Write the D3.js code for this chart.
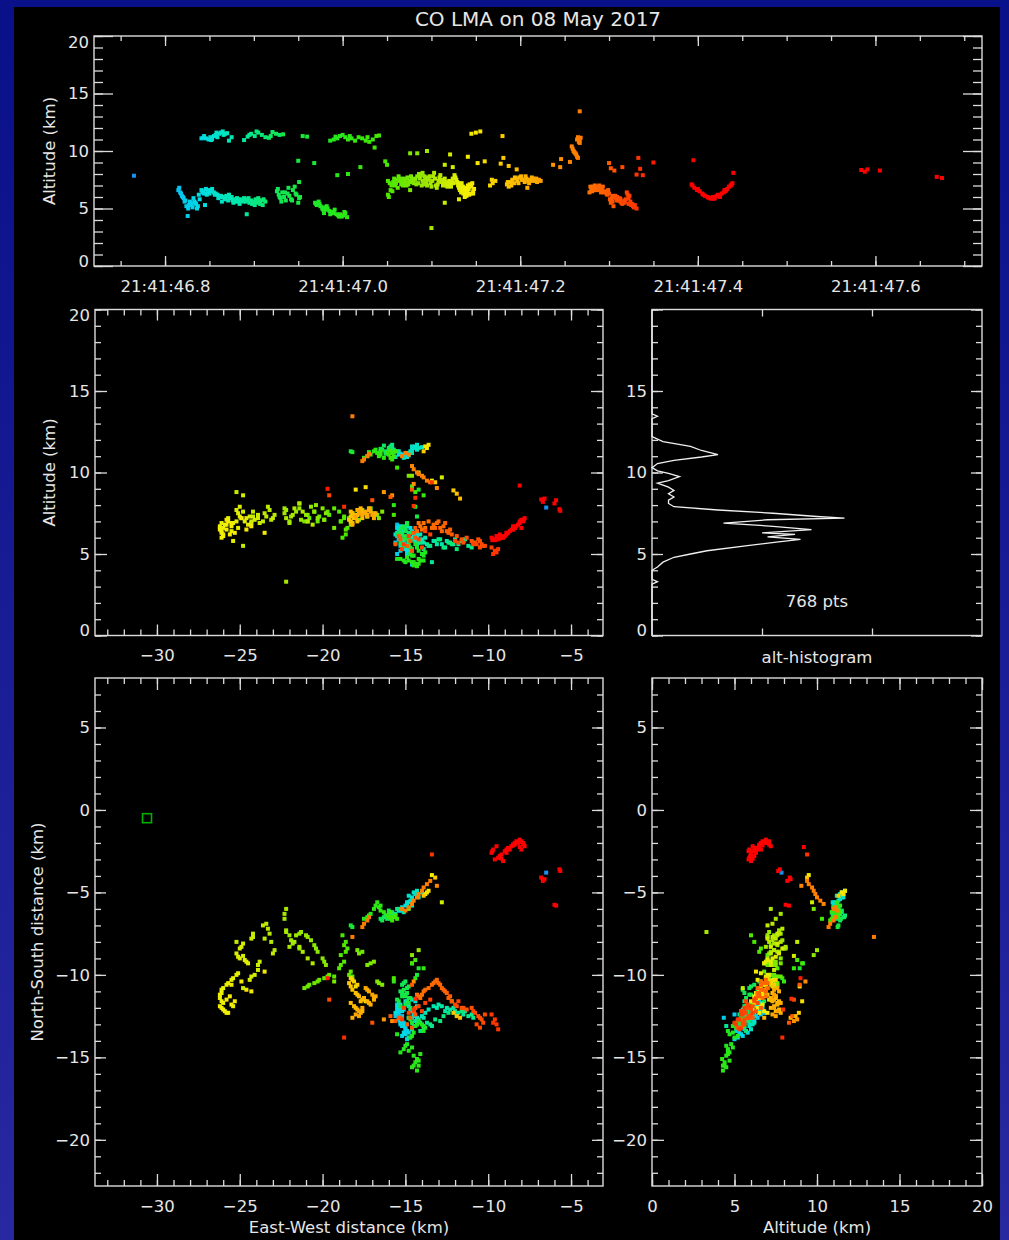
<!DOCTYPE html>
<html><head><meta charset="utf-8">
<script src="https://cdn.jsdelivr.net/npm/d3@7"></script>
<style>
html,body{margin:0;padding:0;background:#000;}
svg{display:block;}
text{font-family:"DejaVu Sans",sans-serif;fill:#e6e6e6;}
</style></head><body>
<svg id="chart" width="1009" height="1240"></svg>
<script>
// ---------- data ----------
const chartTitle = "CO LMA on 08 May 2017";
const timeTickValues = [46.8, 47.0, 47.2, 47.4, 47.6];
const timeTickPrefix = "21:41:";
const altTickValues = [0, 5, 10, 15, 20];
const histAltTickValues = [0, 5, 10, 15];
const ewTickValues = [-30, -25, -20, -15, -10, -5];
const nsTickValues = [5, 0, -5, -10, -15, -20];
const histCountTicks = [20, 40];
const timeDomain = [46.72, 47.72];
const ewDomain = [-33.74, -3.07];
const nsDomain = [-22.8, 8.0];
const altDomain = [0, 20];
const histDomain = [0, 60];
const stationEW = -30.6, stationNS = -0.5;
const pointsLabel = "768 pts";

const colorTimes  = [46.76, 46.80, 46.84, 46.88, 46.92, 46.98, 47.05, 47.10, 47.14, 47.19, 47.24, 47.28, 47.32, 47.37];
const colorValues = ["#1a8cf0","#0ab4f4","#00dce6","#00e8b0","#10e860","#20e820","#48e800","#a8e800","#f4f000","#ffc000","#ff9400","#ff7000","#ff4400","#ff0000"];

// altitude histogram profile (altitude km, count)
const histAlt   = [20,13.6,13.45,13.3,12.2,11.9,11.6,11.35,11.1,10.95,10.75,10.55,10.3,10.1,9.95,9.75,9.5,9.35,9.1,8.9,8.7,8.5,8.3,8.1,7.9,7.7,7.5,7.3,7.2,7.1,6.9,6.7,6.5,6.3,6.2,6.05,5.9,5.75,5.5,5.2,5.0,4.8,4.5,4.2,4.0,3.45,3.3,3.15,0];
const histCount = [0,0,1,0,0,2,7,9,12,9,4,1,0,1,3,5,3,1,3,4,3,4,3,3,4,12,22,30,35,21,13,22,29,20,26,21,27,23,17,10,7,4,2,1,0,0,1,0,0];

// VHF sources: [time (s after 21:41), east-west km, north-south km, altitude km]
const sources = [
[46.765,-6.5,-3.8,7.85],
// lower cyan
[46.815,-15.4,-12.4,6.6],[46.817,-15.3,-12.6,6.4],[46.819,-15.5,-12.2,6.1],[46.821,-15.2,-12.8,5.9],
[46.823,-15.6,-12.5,5.7],[46.8255,-14.6,-12.6,4.35],[46.827,-15.0,-13.2,5.3],[46.829,-15.3,-12.9,5.5],
[46.831,-14.9,-13.4,5.1],[46.833,-15.2,-13.1,5.6],[46.835,-15.0,-13.6,5.4],[46.837,-14.8,-13.8,5.2],
[46.839,-15.1,-13.5,5.8],[46.841,-15.5,-12.0,6.6],[46.843,-15.4,-11.9,6.5],[46.845,-15.0,-13.0,5.3],
[46.847,-15.6,-12.3,6.2],[46.849,-15.3,-11.8,6.6],[46.851,-15.1,-12.1,6.5],[46.853,-14.9,-11.7,6.7],
[46.855,-14.6,-11.5,6.4],[46.857,-14.4,-11.6,6.3],[46.859,-14.3,-11.9,6.2],[46.861,-14.5,-12.3,6.0],
[46.863,-14.8,-12.6,6.1],[46.865,-14.6,-13.3,6.0],[46.867,-14.4,-12.8,5.8],[46.869,-14.3,-13.0,6.1],
[46.871,-14.2,-12.7,5.7],[46.873,-14.0,-12.5,5.9],[46.875,-13.8,-12.3,6.0],[46.877,-13.6,-12.1,5.5],
[46.879,-13.3,-11.9,5.8],[46.881,-13.0,-11.8,5.9],[46.883,-12.8,-11.9,5.6],[46.885,-12.5,-12.0,5.8],
[46.887,-12.3,-12.1,5.7],[46.889,-12.0,-12.2,5.9],[46.891,-11.8,-12.3,5.6],[46.892,-13.4,-13.1,4.5],
[46.893,-11.5,-12.4,5.8],[46.895,-11.2,-12.5,5.5],[46.897,-10.9,-12.6,5.7],[46.899,-13.7,-12.9,5.6],
[46.901,-13.9,-13.2,5.3],[46.903,-13.5,-13.0,5.5],[46.905,-12.9,-12.8,5.9],[46.907,-12.7,-12.5,5.4],
[46.909,-14.1,-13.4,5.7],[46.911,-11.6,-12.2,5.8],[46.913,-12.2,-11.6,5.6],
[46.816,-15.5,-12.3,6.8],[46.818,-15.2,-12.5,6.3],[46.820,-15.4,-12.7,6.0],[46.822,-15.1,-12.9,5.6],
[46.824,-15.3,-13.0,5.2],[46.826,-15.5,-12.4,5.0],[46.828,-15.0,-13.3,5.6],[46.830,-14.8,-13.5,5.3],
[46.832,-15.4,-12.2,5.9],[46.834,-15.2,-13.7,5.5],[46.836,-14.9,-13.9,5.0],[46.838,-15.3,-12.8,6.2],
[46.842,-15.2,-12.2,6.4],[46.844,-15.5,-11.8,6.3],[46.846,-15.3,-12.0,6.7],[46.848,-15.0,-11.6,6.5],
[46.850,-14.8,-11.9,6.3],[46.852,-14.7,-12.2,6.6],[46.856,-14.5,-12.5,6.2],[46.860,-14.6,-12.9,5.9],
[46.864,-14.3,-12.6,5.6],[46.868,-14.5,-13.1,5.9],[46.872,-14.1,-12.9,6.2],[46.876,-13.9,-12.6,5.7],
[46.880,-13.1,-12.0,5.6],[46.884,-12.6,-12.2,5.4],[46.888,-12.1,-12.0,5.6],[46.894,-11.4,-12.2,5.9],
[46.898,-11.0,-12.4,5.4],[46.902,-13.2,-12.7,5.8],[46.906,-12.4,-12.3,5.7],[46.910,-11.9,-12.4,5.3],
// upper cyan
[46.841,-15.4,-6.0,11.1],[46.843,-15.3,-6.1,11.15],[46.846,-15.2,-5.9,11.1],[46.849,-15.0,-5.8,11.0],
[46.851,-14.9,-5.7,11.2],[46.853,-14.8,-5.6,11.05],[46.855,-14.7,-5.5,11.3],[46.857,-14.6,-5.4,11.4],
[46.859,-14.8,-5.2,11.2],[46.861,-14.5,-5.0,11.5],[46.863,-14.4,-5.1,11.6],[46.865,-14.3,-4.9,11.7],
[46.868,-14.2,-5.3,11.5],[46.870,-14.0,-5.0,11.55],[46.872,-15.1,-6.2,10.9],[46.875,-14.6,-5.8,11.2],
[46.844,-15.4,-6.1,11.3],[46.852,-14.9,-5.6,10.95],[46.858,-14.6,-5.3,11.6],[46.866,-14.3,-5.1,11.4],
// upper aqua
[46.889,-15.6,-6.3,10.95],[46.893,-15.7,-6.4,11.25],[46.897,-15.8,-6.2,11.5],[46.901,-15.5,-6.0,11.3],
[46.905,-15.9,-6.5,11.6],[46.909,-16.0,-6.3,11.4],[46.913,-16.1,-6.6,11.2],[46.917,-16.2,-6.4,11.15],
[46.921,-16.3,-6.5,11.65],[46.925,-16.0,-6.1,11.5],[46.929,-16.4,-6.7,11.4],[46.933,-16.5,-6.6,11.45],
[46.895,-15.7,-6.3,11.4],[46.903,-15.8,-6.4,11.7],[46.919,-16.2,-6.5,11.3],
// upper green
[46.955,-18.3,-7.0,11.3],[46.960,-18.2,-7.1,11.25],[46.986,-17.5,-6.6,10.9],[46.990,-17.3,-6.5,11.0],
[46.994,-17.1,-6.3,11.1],[46.997,-16.9,-6.0,11.3],[47.000,-16.8,-5.8,11.4],[47.003,-16.7,-5.6,11.2],
[47.006,-16.6,-5.9,11.0],[47.010,-16.5,-6.1,11.1],[47.014,-16.3,-6.2,10.9],[47.018,-16.1,-6.4,11.2],
[47.022,-16.0,-6.5,11.1],[47.026,-15.9,-6.6,10.9],[47.030,-15.8,-6.7,10.8],[47.034,-15.7,-6.5,11.0],
[47.038,-15.6,-6.4,11.3],[47.036,-15.5,-6.6,10.3],[47.041,-15.9,-6.2,11.35],
[46.992,-17.2,-6.4,11.25],[47.008,-16.5,-5.8,11.3],[47.028,-15.8,-6.5,11.2],
// scattered green, mid levels
[46.950,-14.6,-9.3,9.15],[46.968,-14.2,-9.6,8.95],[46.951,-14.3,-10.0,7.3],[46.994,-14.4,-10.2,7.9],
[47.006,-15.7,-10.4,8.0],[47.020,-13.9,-9.6,8.6],[47.048,-14.6,-9.3,9.1],[47.050,-14.4,-9.1,8.8],
[47.051,-15.7,-10.2,7.4],[47.076,-14.8,-6.0,9.8],[47.084,-14.6,-8.8,9.8],[47.095,-14.2,-8.5,10.0],
// green / aqua lower
[46.926,-15.0,-10.4,6.5],[46.928,-15.2,-10.6,6.2],[46.930,-14.9,-10.8,5.9],[46.932,-15.3,-11.0,6.4],
[46.934,-15.1,-11.2,6.0],[46.936,-14.8,-11.4,5.7],[46.938,-15.4,-11.6,6.3],[46.940,-15.0,-11.8,6.1],
[46.942,-14.7,-12.0,5.8],[46.944,-15.2,-11.3,6.6],[46.946,-14.9,-11.1,6.9],[46.948,-15.5,-11.5,6.2],
[46.950,-15.1,-10.9,5.5],[46.952,-14.8,-11.7,6.0],
[46.927,-15.1,-10.5,6.7],[46.929,-14.8,-10.7,6.0],[46.931,-15.2,-11.1,5.6],[46.935,-15.0,-11.3,6.4],
[46.939,-14.9,-11.6,6.8],[46.943,-15.3,-11.9,5.7],[46.947,-14.7,-11.4,6.3],[46.951,-15.0,-11.2,5.9],
// green lowest
[46.969,-14.8,-12.6,5.5],[46.971,-14.6,-12.9,5.3],[46.973,-14.4,-13.1,5.6],[46.975,-14.2,-12.8,5.2],
[46.977,-14.0,-13.0,5.0],[46.979,-13.8,-13.2,5.1],[46.981,-14.5,-13.5,4.9],[46.983,-14.7,-13.8,5.0],
[46.985,-14.9,-14.2,4.8],[46.987,-15.1,-14.5,4.6],[46.989,-15.3,-14.7,4.7],[46.991,-14.6,-14.4,4.9],
[46.993,-14.5,-14.9,4.5],[46.995,-14.4,-15.3,4.4],[46.997,-14.6,-15.6,4.5],[46.999,-14.3,-15.8,4.3],
[47.001,-14.2,-15.5,4.4],[47.003,-14.1,-14.8,4.6],[47.005,-14.3,-15.1,4.25],[46.979,-13.9,-13.4,4.6],
[46.988,-15.5,-13.6,4.7],
[46.970,-14.7,-12.7,5.4],[46.974,-14.3,-13.0,5.4],[46.978,-13.9,-13.1,4.9],[46.982,-14.6,-13.7,5.2],
[46.986,-15.0,-14.3,4.5],[46.990,-14.8,-14.6,4.6],[46.996,-14.5,-15.5,4.3],[47.002,-14.2,-15.2,4.7],
// main mid-level band: green part
[47.051,-18.6,-8.0,6.2],[47.052,-18.8,-7.6,6.0],[47.054,-18.5,-8.4,6.6],[47.055,-18.9,-8.8,7.0],
[47.057,-18.7,-9.2,7.3],[47.058,-19.0,-9.6,7.6],[47.060,-18.4,-10.0,7.2],[47.061,-18.2,-10.1,7.5],
[47.063,-19.3,-10.1,7.8],[47.064,-19.6,-10.0,7.4],[47.066,-19.9,-10.2,7.1],[47.067,-20.2,-10.3,7.3],
[47.069,-20.5,-10.5,7.6],[47.070,-20.8,-10.6,7.2],[47.072,-21.1,-10.8,7.0],[47.073,-17.6,-8.6,7.7],
[47.075,-17.9,-8.5,7.4],[47.076,-17.3,-9.4,7.3],[47.078,-16.9,-9.2,7.5],[47.079,-16.7,-10.4,7.4],
[47.081,-16.4,-10.6,7.6],[47.076,-19.3,-10.4,6.6],
[47.053,-18.7,-8.2,7.2],[47.056,-18.6,-8.6,6.5],[47.059,-18.9,-9.4,7.0],[47.062,-18.3,-9.8,6.8],
[47.065,-19.7,-10.1,7.6],[47.068,-20.3,-10.4,7.0],[47.071,-20.9,-10.7,7.4],[47.074,-17.8,-8.7,7.1],
[47.077,-17.1,-9.3,7.8],[47.080,-16.6,-10.5,7.2],
// yellow-green part
[47.082,-19.8,-9.4,7.5],[47.084,-20.0,-9.0,7.8],[47.085,-20.3,-8.6,7.2],[47.087,-20.5,-8.2,7.6],
[47.088,-20.7,-7.9,7.9],[47.090,-21.0,-7.6,7.4],[47.091,-21.3,-7.4,7.1],[47.093,-21.6,-7.6,7.6],
[47.094,-21.9,-7.9,7.3],[47.096,-22.2,-7.3,7.7],[47.097,-22.3,-6.6,7.5],[47.099,-22.2,-6.0,7.2],
[47.100,-22.0,-8.3,6.9],[47.102,-21.7,-8.0,7.8],[47.103,-21.4,-8.3,8.1],[47.105,-20.9,-9.0,7.0],
[47.106,-20.6,-9.3,6.8],[47.108,-22.9,-8.5,7.4],[47.109,-23.2,-7.5,7.7],[47.111,-23.4,-6.9,7.3],
[47.112,-23.5,-7.8,7.5],[47.114,-23.0,-8.7,7.2],[47.115,-24.2,-7.5,7.6],[47.117,-24.3,-7.8,7.0],
[47.118,-23.8,-9.2,6.9],[47.120,-23.9,-9.7,7.4],[47.121,-24.1,-10.0,7.1],[47.123,-24.4,-10.3,7.3],
[47.100,-22.2,-7.4,3.3],[47.090,-21.4,-8.4,8.1],
[47.083,-19.9,-9.2,7.1],[47.086,-20.4,-8.4,8.0],[47.089,-20.9,-7.7,7.0],[47.092,-21.4,-7.5,7.8],
[47.095,-22.0,-7.6,7.0],[47.098,-22.3,-6.3,7.8],[47.101,-21.8,-8.1,7.4],[47.104,-21.2,-8.6,7.6],
[47.107,-23.1,-8.0,7.1],[47.110,-23.3,-7.2,7.9],[47.113,-23.6,-7.0,7.0],[47.116,-24.2,-7.7,7.3],
[47.119,-23.9,-9.4,7.2],[47.122,-24.3,-10.1,6.9],
// yellow part (far west)
[47.124,-24.8,-8.1,7.6],[47.126,-25.0,-8.4,7.9],[47.127,-25.2,-8.7,7.7],[47.129,-25.0,-9.0,7.3],
[47.130,-24.7,-9.1,7.0],[47.131,-24.5,-9.3,6.8],[47.132,-25.1,-9.9,6.6],[47.133,-25.4,-10.2,6.9],
[47.134,-25.7,-10.5,7.2],[47.135,-26.0,-10.8,6.6],[47.136,-26.1,-11.1,6.3],[47.137,-26.2,-11.4,6.5],
[47.138,-26.0,-11.7,6.2],[47.139,-26.1,-12.0,6.4],[47.140,-25.9,-12.2,6.8],[47.141,-25.7,-12.3,7.0],
[47.142,-25.5,-11.8,6.7],[47.143,-25.8,-11.5,7.1],[47.144,-25.3,-11.6,6.3],[47.145,-25.5,-10.6,6.9],
[47.146,-24.9,-10.4,7.2],[47.147,-24.6,-10.9,6.5],[47.148,-24.3,-11.0,6.7],
[47.115,-24.8,-10.8,5.5],[47.131,-25.4,-11.9,5.8],[47.147,-23.5,-9.8,6.3],
[47.125,-24.9,-8.3,7.2],[47.128,-25.1,-8.9,7.5],[47.1305,-24.6,-9.2,7.2],[47.1325,-25.2,-10.0,7.0],
[47.1335,-25.5,-10.3,6.4],[47.1345,-25.8,-10.6,6.8],[47.1355,-26.1,-10.9,6.9],[47.1365,-26.2,-11.2,6.7],
[47.1375,-26.1,-11.6,6.0],[47.1385,-26.2,-11.9,6.6],[47.1395,-26.0,-12.1,6.1],[47.1405,-25.8,-12.3,6.5],
[47.1425,-25.6,-11.3,6.2],
// scattered yellow, upper
[47.115,-25.2,-8.0,8.8],[47.124,-24.8,-8.85,8.6],[47.121,-12.8,-5.6,9.7],[47.141,-13.4,-3.95,9.5],
[47.152,-18.0,-10.7,8.95],[47.160,-17.4,-11.6,9.1],[47.178,-12.1,-12.3,8.9],[47.181,-13.2,-4.1,9.4],
[47.187,-11.9,-12.5,8.7],[47.196,-11.7,-12.6,8.4],
[47.145,-13.7,-5.0,11.5],[47.150,-13.8,-5.1,11.6],[47.155,-13.6,-4.9,11.7],[47.180,-13.9,-5.2,11.3],
// yellow-orange cluster
[47.166,-18.3,-10.2,7.0],[47.169,-18.1,-10.4,7.2],[47.172,-17.9,-10.6,7.4],[47.185,-18.4,-10.5,7.1],
[47.187,-18.2,-10.9,6.9],[47.189,-18.0,-11.1,7.3],[47.191,-17.8,-11.3,7.5],[47.193,-17.6,-11.5,7.2],
[47.195,-18.3,-11.7,7.6],[47.197,-18.1,-11.9,7.4],[47.199,-17.9,-12.1,7.7],[47.201,-17.7,-12.3,7.8],
[47.203,-17.5,-11.4,7.5],[47.205,-17.3,-11.6,7.3],[47.207,-17.1,-11.8,7.6],[47.209,-16.9,-11.5,7.4],
[47.211,-16.8,-11.3,7.5],[47.213,-17.2,-11.0,7.7],[47.215,-17.4,-10.8,7.6],[47.217,-17.6,-12.0,7.4],
[47.219,-18.0,-12.4,7.3],[47.221,-17.8,-12.5,7.5],[47.223,-17.0,-11.2,7.4],[47.208,-18.2,-12.6,6.8],
[47.168,-18.2,-10.3,7.5],[47.186,-18.3,-10.7,7.3],[47.190,-17.9,-11.2,7.0],[47.194,-17.7,-11.6,7.7],
[47.198,-18.0,-12.0,7.2],[47.202,-17.6,-12.2,7.5],[47.206,-17.2,-11.7,7.8],[47.210,-16.9,-11.4,7.2],
[47.214,-17.3,-10.9,7.4],[47.218,-17.8,-12.2,7.6],
// upper orange
[47.237,-16.3,-12.7,8.8],[47.245,-15.8,-12.8,8.6],[47.246,-14.5,-10.4,9.3],
[47.258,-14.6,-5.7,10.4],[47.259,-14.5,-5.5,10.2],[47.260,-14.3,-5.3,10.0],[47.261,-14.2,-5.1,9.9],
[47.262,-14.0,-4.9,9.8],[47.263,-13.9,-4.7,9.7],[47.264,-13.7,-4.5,9.5],[47.265,-13.5,-4.3,9.4],
[47.256,-13.1,-4.6,9.05],[47.264,-15.2,-6.0,11.0],[47.265,-15.0,-6.1,11.2],[47.266,-14.8,-5.9,11.1],
[47.266,-17.5,-6.9,10.8],[47.267,-17.3,-6.7,11.0],[47.267,-17.6,-7.1,10.7],[47.268,-17.2,-6.5,11.15],
[47.267,-18.2,-7.7,13.45],
[47.300,-14.6,-10.6,8.95],[47.306,-17.0,-12.9,8.3],[47.302,-15.9,-12.5,8.5],[47.315,-19.6,-11.5,8.6],
// orange-red, lower
[47.278,-14.3,-11.2,6.4],[47.280,-14.1,-11.4,6.7],[47.282,-13.9,-11.0,6.9],[47.284,-13.6,-10.8,7.0],
[47.286,-13.3,-10.5,6.8],[47.288,-13.1,-10.3,6.9],[47.290,-12.9,-10.6,6.6],[47.292,-12.7,-10.9,6.7],
[47.294,-12.5,-11.1,6.4],[47.296,-12.3,-11.3,6.5],[47.298,-12.2,-11.6,6.2],[47.300,-14.5,-12.2,6.3],
[47.301,-14.7,-12.6,5.8],[47.302,-14.9,-13.0,5.5],[47.303,-15.3,-12.6,5.9],[47.304,-15.6,-12.8,5.6],
[47.305,-14.6,-13.2,5.2],[47.306,-14.4,-12.4,6.0],[47.307,-11.9,-11.9,6.1],[47.308,-11.6,-12.0,5.9],
[47.309,-11.3,-12.1,6.0],[47.310,-11.0,-12.0,5.8],[47.311,-10.8,-12.3,5.7],[47.312,-10.6,-12.5,5.9],
[47.313,-10.4,-12.7,5.6],[47.314,-10.3,-12.9,5.5],[47.315,-10.5,-13.2,5.4],[47.316,-10.7,-13.0,5.6],
[47.317,-10.2,-12.4,5.5],[47.318,-11.8,-11.6,5.7],[47.319,-12.0,-11.8,5.8],[47.320,-13.8,-11.7,6.4],
[47.321,-13.5,-11.5,6.2],[47.322,-14.2,-11.9,5.9],[47.323,-14.8,-12.3,6.1],[47.324,-15.1,-12.0,5.6],
[47.326,-9.8,-12.4,5.4],[47.327,-9.6,-12.7,5.2],[47.328,-9.5,-13.0,5.1],[47.329,-9.4,-13.3,5.3],
[47.331,-9.7,-12.9,5.0],
[47.279,-14.2,-11.3,6.9],[47.281,-14.0,-11.2,6.5],[47.283,-13.8,-10.9,6.6],[47.285,-13.4,-10.6,6.6],
[47.287,-13.2,-10.4,6.6],[47.289,-13.0,-10.5,7.0],[47.291,-12.8,-10.8,6.4],[47.293,-12.6,-11.0,6.9],
[47.297,-12.4,-11.4,6.3],[47.299,-14.4,-12.0,6.6],[47.304,-15.4,-12.6,6.1],[47.309,-11.5,-12.0,5.7],
[47.313,-10.5,-12.6,5.8],[47.318,-10.9,-12.2,5.6],[47.322,-14.0,-12.2,5.4],[47.325,-15.2,-12.7,5.3],
// scattered red
[47.331,-14.5,-12.1,7.95],[47.333,-13.4,-2.7,9.4],[47.335,-14.4,-11.45,8.45],[47.338,-18.7,-13.8,7.9],
[47.350,-19.7,-10.2,9.0],[47.395,-8.1,-2.25,9.2],
// red arc
[47.393,-8.0,-1.9,7.1],[47.396,-8.2,-2.0,6.8],[47.399,-8.4,-2.1,6.6],[47.402,-8.6,-2.2,6.5],
[47.405,-8.8,-2.3,6.3],[47.408,-9.0,-2.5,6.1],[47.411,-9.2,-2.7,6.0],[47.413,-9.4,-2.9,5.9],
[47.415,-9.6,-3.0,5.85],[47.417,-9.8,-2.6,6.0],[47.419,-9.7,-2.4,5.9],[47.421,-9.5,-2.2,6.1],
[47.423,-9.3,-2.8,6.2],[47.425,-9.1,-3.1,6.0],[47.427,-8.9,-2.6,6.3],[47.429,-8.7,-2.4,6.4],
[47.431,-8.5,-2.1,6.5],[47.433,-8.3,-1.9,6.7],[47.435,-8.1,-1.8,6.9],[47.437,-7.9,-2.0,7.0],
[47.439,-7.8,-2.2,7.2],[47.430,-8.0,-2.4,6.6],
[47.394,-8.1,-1.95,7.0],[47.400,-8.5,-2.15,6.7],[47.406,-8.9,-2.4,6.2],[47.412,-9.3,-2.8,5.95],
[47.418,-9.75,-2.5,5.85],[47.424,-9.2,-2.95,6.1],[47.432,-8.4,-2.0,6.6],[47.438,-7.85,-2.1,7.1],
// late red
[47.440,-6.0,-5.75,8.1],[47.584,-6.8,-4.1,8.35],[47.588,-6.7,-4.3,8.2],[47.591,-6.6,-4.2,8.4],
[47.605,-5.9,-5.8,8.3],[47.669,-5.7,-3.6,7.75],[47.675,-5.65,-3.7,7.65]
];

// ---------- drawing ----------
const W = 1009, H = 1240;
const lineColor = "#dcdcdc";
const svg = d3.select("#chart");
const defs = svg.append("defs");
const grad = defs.append("linearGradient").attr("id","bg").attr("x1",0).attr("y1",0).attr("x2",0).attr("y2",1);
grad.append("stop").attr("offset","0%").attr("stop-color","#08108a");
grad.append("stop").attr("offset","100%").attr("stop-color","#2828a0");
svg.append("rect").attr("width",W).attr("height",H).attr("fill","url(#bg)");
svg.append("rect").attr("x",14).attr("y",7).attr("width",986).attr("height",H-7).attr("fill","#000");

const P = {
  top:  {x0:94, x1:982, y0:36,    y1:266},
  ewz:  {x0:95, x1:603, y0:309.5, y1:635.5},
  hist: {x0:652,x1:982, y0:309.5, y1:635.5},
  plan: {x0:95, x1:603, y0:678,   y1:1186},
  nsz:  {x0:652,x1:982, y0:678,   y1:1186}
};

const xTime = d3.scaleLinear().domain(timeDomain).range([P.top.x0, P.top.x1]);
const yAltTop = d3.scaleLinear().domain(altDomain).range([P.top.y1, P.top.y0]);
const xEW = d3.scaleLinear().domain(ewDomain).range([P.ewz.x0, P.ewz.x1]);
const yAltMid = d3.scaleLinear().domain(altDomain).range([P.ewz.y1, P.ewz.y0]);
const xHist = d3.scaleLinear().domain(histDomain).range([P.hist.x0, P.hist.x1]);
const yNS = d3.scaleLinear().domain(nsDomain).range([P.plan.y1, P.plan.y0]);
const xAltBot = d3.scaleLinear().domain(altDomain).range([P.nsz.x0, P.nsz.x1]);

const color = d3.scaleLinear().domain(colorTimes).range(colorValues).clamp(true);

function frame(p){
  svg.append("rect").attr("x",p.x0).attr("y",p.y0).attr("width",p.x1-p.x0).attr("height",p.y1-p.y0)
    .attr("fill","none").attr("stroke",lineColor).attr("stroke-width",1.4);
}

function axisPart(axisFn, scale, vals, size, tx, ty, fmt){
  const a = axisFn(scale).tickValues(vals).tickSize(-size).tickSizeOuter(0).tickFormat(fmt || (() => ""));
  const g = svg.append("g").attr("transform",`translate(${tx},${ty})`).call(a);
  g.select(".domain").remove();
  g.attr("font-size", null).attr("font-family", null);
  g.selectAll("line").attr("stroke", lineColor).attr("stroke-width", 1.3);
  return g;
}

const minus = v => (v < 0 ? "\u2212" + Math.abs(v) : String(v));

function axes(p, xs, ys, c){
  if (c.xMinor){
    axisPart(d3.axisBottom, xs, c.xMinor, c.xMin, 0, p.y1);
    axisPart(d3.axisTop, xs, c.xMinor, c.xMin, 0, p.y0);
  }
  const gb = axisPart(d3.axisBottom, xs, c.xMajor, c.xMaj, 0, p.y1, c.xFmt);
  axisPart(d3.axisTop, xs, c.xMajor, c.xMaj, 0, p.y0);
  if (c.xFmt) gb.selectAll("text").attr("y", 20.5).attr("dy","0.32em").style("font-size","16.5px");
  if (c.yMinor){
    axisPart(d3.axisLeft, ys, c.yMinor, c.yMin, p.x0, 0);
    axisPart(d3.axisRight, ys, c.yMinor, c.yMin, p.x1, 0);
  }
  const gl = axisPart(d3.axisLeft, ys, c.yMajor, c.yMaj, p.x0, 0, c.yFmt);
  axisPart(d3.axisRight, ys, c.yMajor, c.yMaj, p.x1, 0);
  if (c.yFmt){
    gl.selectAll("text").attr("x", -5).attr("dy","0.32em").style("font-size","16.5px")
      .attr("y", d => {
        const y = ys(d);
        if (Math.abs(y - p.y0) < 1) return 6;
        if (Math.abs(y - p.y1) < 1) return -5;
        return 0;
      });
  }
  frame(p);
}

const r = (a,b,s=1) => d3.range(0, Math.round((b-a)/s)+1).map(i => +(a + i*s).toFixed(3));

// top: time vs altitude
axes(P.top, xTime, yAltTop, {
  xMajor: timeTickValues, xMinor: r(46.75, 47.70, 0.05), xMaj: 10, xMin: 5,
  xFmt: d => timeTickPrefix + d.toFixed(1),
  yMajor: altTickValues, yMinor: r(0,20), yMaj: 19, yMin: 9, yFmt: d => String(d)
});
// middle-left: EW vs altitude
axes(P.ewz, xEW, yAltMid, {
  xMajor: ewTickValues, xMinor: r(-33,-4), xMaj: 11, xMin: 6, xFmt: minus,
  yMajor: altTickValues, yMinor: r(0,20), yMaj: 12, yMin: 6, yFmt: d => String(d)
});
// histogram
axes(P.hist, xHist, yAltMid, {
  xMajor: histCountTicks, xMaj: 7,
  yMajor: altTickValues, yMinor: r(0,20), yMaj: 11, yMin: 6,
  yFmt: d => (histAltTickValues.includes(d) ? String(d) : "")
});
// plan view
axes(P.plan, xEW, yNS, {
  xMajor: ewTickValues, xMinor: r(-33,-4), xMaj: 12, xMin: 6, xFmt: minus,
  yMajor: nsTickValues, yMinor: r(-22,7), yMaj: 11, yMin: 6, yFmt: minus
});
// altitude vs NS
axes(P.nsz, xAltBot, yNS, {
  xMajor: altTickValues, xMinor: r(0,20), xMaj: 12, xMin: 6, xFmt: d => String(d),
  yMajor: nsTickValues, yMinor: r(-22,7), yMaj: 12, yMin: 6, yFmt: minus
});

// points (time order so that later sources are drawn on top)
const pts = sources.map(d => ({t:d[0], ew:d[1], ns:d[2], alt:d[3]})).sort((a,b) => a.t - b.t);
const S = 4;
function scatter(xf, yf){
  svg.append("g").selectAll("rect").data(pts).join("rect")
    .attr("x", d => xf(d) - S/2).attr("y", d => yf(d) - S/2)
    .attr("width", S).attr("height", S).attr("fill", d => color(d.t));
}
scatter(d => xTime(d.t), d => yAltTop(d.alt));
scatter(d => xEW(d.ew), d => yAltMid(d.alt));
scatter(d => xEW(d.ew), d => yNS(d.ns));
scatter(d => xAltBot(d.alt), d => yNS(d.ns));

// station marker
svg.append("rect").attr("x", xEW(stationEW) - 4.5).attr("y", yNS(stationNS) - 4.5)
  .attr("width", 9).attr("height", 9).attr("fill","none").attr("stroke","#00b000").attr("stroke-width",1.6);

// histogram line
const histData = histAlt.map((a,i) => ({alt:a, n:histCount[i]}));
svg.append("path").datum(histData)
  .attr("d", d3.line().x(d => xHist(d.n)).y(d => yAltMid(d.alt)))
  .attr("fill","none").attr("stroke","#f0f0f0").attr("stroke-width",1.3);

// texts
svg.append("text").attr("x", 538).attr("y", 19).attr("text-anchor","middle").attr("dy","0.35em")
  .style("font-size","20px").text(chartTitle);
function vtitle(x, y, s){
  svg.append("text").attr("transform",`translate(${x},${y}) rotate(-90)`).attr("text-anchor","middle")
    .attr("dy","0.35em").style("font-size","16.5px").text(s);
}
vtitle(49, (P.top.y0+P.top.y1)/2, "Altitude (km)");
vtitle(49, (P.ewz.y0+P.ewz.y1)/2, "Altitude (km)");
vtitle(37, (P.plan.y0+P.plan.y1)/2, "North-South distance (km)");
function htitle(x, y, s, fs){
  svg.append("text").attr("x", x).attr("y", y).attr("text-anchor","middle").attr("dy","0.35em")
    .style("font-size", (fs||16.5)+"px").text(s);
}
htitle((P.plan.x0+P.plan.x1)/2, 1227, "East-West distance (km)");
htitle((P.nsz.x0+P.nsz.x1)/2, 1227, "Altitude (km)");
htitle((P.hist.x0+P.hist.x1)/2, 657, "alt-histogram");
htitle((P.hist.x0+P.hist.x1)/2, 601, pointsLabel);
</script>
</body></html>
